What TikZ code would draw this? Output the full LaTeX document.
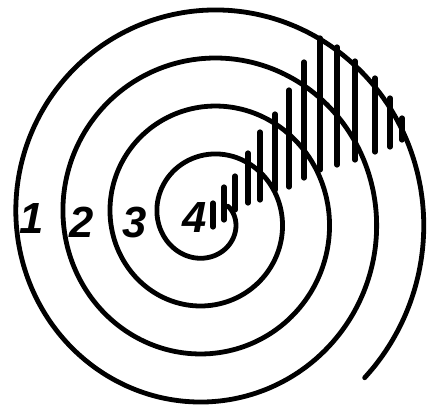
\documentclass[tikz,border=0pt]{standalone}
\usepackage{fontspec}
\setsansfont{Liberation Sans}
\begin{document}
\begin{tikzpicture}[x=.25mm,y=-.25mm,line cap=round,line join=round,
  curve/.style={line width=1.2mm},
  hatch/.style={line width=1.3mm},
  digit/.style={font=\fontsize{31}{31}\selectfont\sffamily\bfseries\itshape,inner sep=0pt}]
\useasboundingbox (0,0) rectangle (428,414);

% Spiral: starts inside the centre, winds outward clockwise on the page.
\draw[curve] plot[domain=-30:1485,samples=400,smooth]
  ({208+(27+.131*\x)*cos(\x)},{218+1.02*(27+.131*\x)*sin(\x)});

% Hatched wedge from the centre up to the outer turn.
\foreach \x/\t/\b in {213/203/227,224/187/220,235/176/210,248/153/203,
  260/132/200,275/114/190,289/90/187,304/62/178,320/38/170,337/47/165,
  355/61/160,375/78/152,390/98/147,402/118/140}
  \draw[hatch] (\x,\t) -- (\x,\b);

% Turn numbers.
\node[digit] (n1) at (32,219) {1};
\node[digit] (n2) at (82,222) {2};
\node[digit] (n3) at (135,222) {3};
\node[digit] (n4) at (195,218) {4};
\end{tikzpicture}
\end{document}
